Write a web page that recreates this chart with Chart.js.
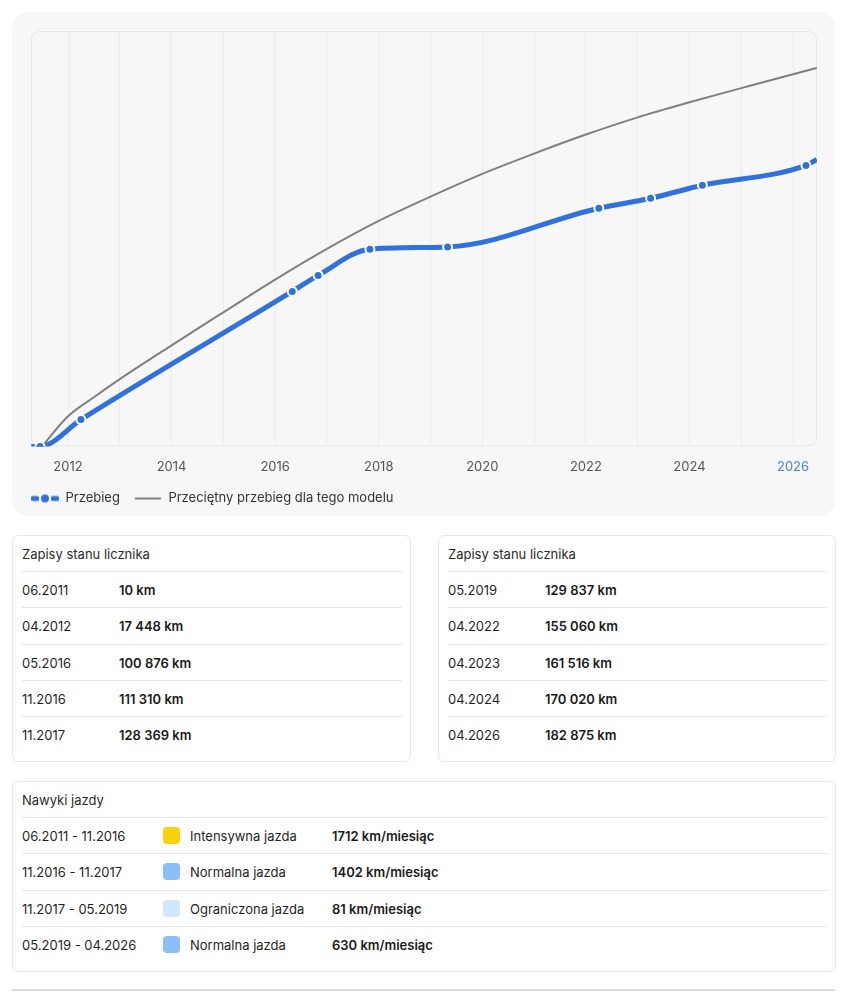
<!DOCTYPE html>
<html lang="pl">
<head>
<meta charset="utf-8">
<script src="https://cdn.jsdelivr.net/npm/chart.js@4.4.1/dist/chart.umd.min.js"></script>
<style>
  html, body { margin:0; padding:0; background:#fff; }
  body { width:852px; height:999px; position:relative; font-family: Inter, "Noto Sans", sans-serif; color:#1f1f1f; font-size:13px; }
  #chartCard { position:absolute; left:12px; top:12px; width:823px; height:504px; background:#f7f7f7; border-radius:16px; }
  #chartCard canvas { position:absolute; left:0; top:0; }
  .card { position:absolute; background:#fff; border:1px solid #e8e8e8; border-radius:6px; box-sizing:border-box; }
  .title { position:absolute; left:9px; right:8px; top:0; height:36px; line-height:36px; color:#2a2a2a; }
  .row { position:absolute; left:9px; right:8px; height:36px; line-height:36px; border-top:1px solid #e6e6e6; white-space:nowrap; }
  .row span { position:absolute; top:0; }
  .row b { font-weight:600; color:#1a1a1a; }
  .sw { display:inline-block; position:absolute; width:17px; height:17px; border-radius:4px; top:9px; }
  #bottomLine { position:absolute; left:12px; top:989px; width:823px; height:2px; background:#dcdcdc; }
</style>
</head>
<body>
<div id="chartCard"><canvas id="c" width="823" height="504"></canvas></div>
<div class="card" id="leftCard" style="left:12px; top:535px; width:399px; height:227px;"></div>
<div class="card" id="rightCard" style="left:438px; top:535px; width:398px; height:227px;"></div>
<div class="card" id="habitCard" style="left:12px; top:781px; width:824px; height:191px;"></div>
<div id="bottomLine"></div>
<script>
// ---- Data ----
const readingDates = ["06.2011","04.2012","05.2016","11.2016","11.2017","05.2019","04.2022","04.2023","04.2024","04.2026"];
const readingYears = [2011.46, 2012.25, 2016.33, 2016.83, 2017.83, 2019.33, 2022.25, 2023.25, 2024.25, 2026.25];
const readingKm    = [10, 17448, 100876, 111310, 128369, 129837, 155060, 161516, 170020, 182875];
// line continues to the plot edges (no marker)
const edgeYears = [2011.29, 2026.46];
const edgeKm    = [0, 186800];

const avgYears = [2011.5, 2012, 2012.5, 2013, 2014, 2015, 2016, 2017, 2018, 2019, 2020, 2021, 2022, 2023, 2024, 2025, 2026, 2026.46];
const avgKm    = [0, 19600, 32000, 43800, 65800, 87300, 108600, 128600, 146800, 162600, 177400, 190600, 203000, 214200, 224000, 233200, 242300, 246300];

const tickYears = [2012,2013,2014,2015,2016,2017,2018,2019,2020,2021,2022,2023,2024,2025,2026];
const xMin = 2011.2855, xMax = 2026.463, yMax = 270400;

const habitRanges = ["06.2011 - 11.2016","11.2016 - 11.2017","11.2017 - 05.2019","05.2019 - 04.2026"];
const habitLabels = ["Intensywna jazda","Normalna jazda","Ograniczona jazda","Normalna jazda"];
const habitRates  = ["1712 km/miesiąc","1402 km/miesiąc","81 km/miesiąc","630 km/miesiąc"];
const habitColors = ["#fbd20a","#8bbff8","#cfe6fb","#8bbff8"];

const labelBlue = "Przebieg";
const labelAvg = "Przeciętny przebieg dla tego modelu";

// ---- Tables ----
const fmt = n => String(n).replace(/\B(?=(\d{3})+(?!\d))/g, " ") + " km";
function fillReadings(el, from, to, valX) {
  let h = '<div class="title">Zapisy stanu licznika</div>';
  for (let i = from; i < to; i++) {
    const top = 35 + (i - from) * 36.3;
    h += `<div class="row" style="top:${top}px"><span style="left:0">${readingDates[i]}</span><span style="left:${valX}px"><b>${fmt(readingKm[i])}</b></span></div>`;
  }
  el.innerHTML = h;
}
fillReadings(document.getElementById('leftCard'), 0, 5, 97);
fillReadings(document.getElementById('rightCard'), 5, 10, 97);
(function(){
  let h = '<div class="title">Nawyki jazdy</div>';
  for (let i = 0; i < habitRanges.length; i++) {
    const top = 35 + i * 36.3;
    h += `<div class="row" style="top:${top}px"><span style="left:0">${habitRanges[i]}</span><i class="sw" style="left:141px;background:${habitColors[i]}"></i><span style="left:168px">${habitLabels[i]}</span><span style="left:310px"><b>${habitRates[i]}</b></span></div>`;
  }
  document.getElementById('habitCard').innerHTML = h;
})();

// ---- Chart ----
const BLUE = '#2f72df', GREY = '#808080';
const bluePts = [{x: edgeYears[0], y: edgeKm[0]}]
  .concat(readingYears.map((x, i) => ({x, y: readingKm[i]})))
  .concat([{x: edgeYears[1], y: edgeKm[1]}]);
const blueRadius = bluePts.map((p, i) => (i === 0 || i === bluePts.length - 1) ? 0 : 4.5);
const avgPts = avgYears.map((x, i) => ({x, y: avgKm[i]}));

function legendIcon(kind) {
  const cv = document.createElement('canvas');
  cv.width = 28; cv.height = 10;
  const g = cv.getContext('2d');
  if (kind === 'blue') {
    g.fillStyle = BLUE;
    g.beginPath(); g.roundRect(0, 2.5, 8, 5, 1.5); g.fill();
    g.beginPath(); g.arc(14, 5, 4, 0, Math.PI * 2); g.fill();
    g.beginPath(); g.roundRect(20, 2.5, 8, 5, 1.5); g.fill();
  } else {
    g.fillStyle = GREY;
    g.fillRect(1, 4, 26, 2);
  }
  return cv;
}
const icons = [legendIcon('blue'), legendIcon('grey')];

const plotFrame = {
  id: 'plotFrame',
  beforeDatasetsDraw(chart) {
    const {ctx, chartArea: a} = chart;
    ctx.save();
    ctx.strokeStyle = '#e6e6e6';
    ctx.lineWidth = 1;
    ctx.beginPath();
    ctx.roundRect(a.left + 0.5, a.top + 0.5, a.right - a.left - 1, a.bottom - a.top - 1, 8);
    ctx.stroke();
    ctx.restore();
  }
};

new Chart(document.getElementById('c'), {
  type: 'line',
  data: {
    datasets: [
      {
        label: labelBlue,
        data: bluePts,
        borderColor: BLUE,
        backgroundColor: BLUE,
        borderWidth: 5,
        cubicInterpolationMode: 'monotone',
        pointRadius: blueRadius,
        pointBackgroundColor: BLUE,
        pointBorderColor: '#ffffff',
        pointBorderWidth: 2,
        order: 0
      },
      {
        label: labelAvg,
        data: avgPts,
        borderColor: GREY,
        backgroundColor: GREY,
        borderWidth: 2,
        cubicInterpolationMode: 'monotone',
        pointRadius: 0,
        order: 1
      }
    ]
  },
  options: {
    responsive: false,
    animation: false,
    events: [],
    layout: { padding: { left: 5, right: 18, top: 19, bottom: 1 } },
    scales: {
      x: {
        type: 'linear',
        min: xMin, max: xMax,
        afterBuildTicks: s => { s.ticks = tickYears.map(v => ({value: v})); },
        afterFit: s => { s.height = s.height - 10; },
        grid: { color: '#ececec', lineWidth: 1, drawTicks: false },
        border: { display: false },
        ticks: {
          autoSkip: false, maxRotation: 0, padding: 13,
          font: { family: 'Inter', size: 13 },
          color: c => c.tick && c.tick.value === 2026 ? '#4a86c8' : '#555555',
          callback: v => v % 2 === 0 ? String(v) : ''
        }
      },
      y: {
        min: 0, max: yMax,
        display: true,
        afterFit: s => { s.width = 14; },
        grid: { display: false, drawTicks: false },
        border: { display: false },
        ticks: { display: false }
      }
    },
    plugins: {
      tooltip: { enabled: false },
      legend: {
        position: 'bottom',
        align: 'start',
        labels: {
          usePointStyle: true,
          pointStyleWidth: 28,
          boxHeight: 13,
          padding: 14,
          color: '#333333',
          font: { family: 'Inter', size: 13 },
          generateLabels: chart => chart.data.datasets.map((d, i) => ({
            text: d.label, pointStyle: icons[i], fillStyle: 'transparent',
            strokeStyle: 'transparent', lineWidth: 0, datasetIndex: i, fontColor: '#333333'
          }))
        }
      }
    }
  },
  plugins: [plotFrame]
});
</script>
</body>
</html>
